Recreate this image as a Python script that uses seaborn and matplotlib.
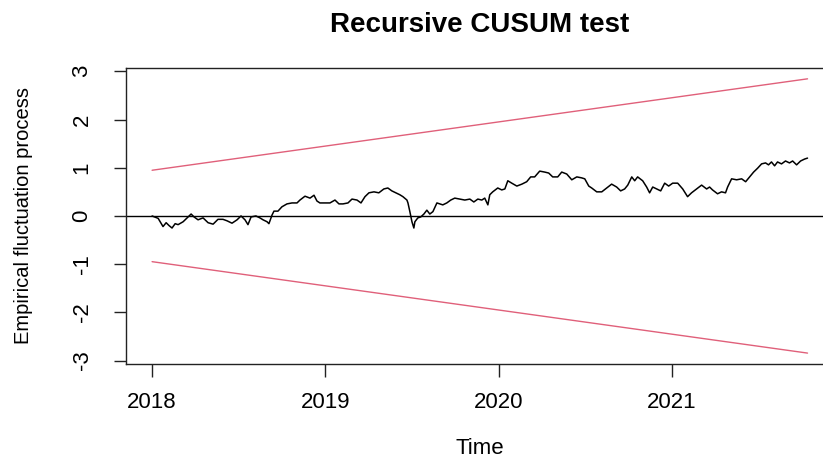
import pandas as pd
import matplotlib
matplotlib.use('Agg')
import matplotlib.pyplot as plt
import seaborn as sns

'''
Recursive CUSUM test: empirical fluctuation process with its
5% boundaries, drawn in the style of an R strucchange plot.
'''

### Data ###
time = [
    2018.000, 2018.035, 2018.063, 2018.081, 2018.098, 2018.115, 2018.133, 2018.150,
    2018.179, 2018.202, 2018.225, 2018.242, 2018.265, 2018.294, 2018.323, 2018.352,
    2018.380, 2018.409, 2018.432, 2018.461, 2018.490, 2018.513, 2018.536, 2018.553,
    2018.571, 2018.599, 2018.622, 2018.640, 2018.663, 2018.674, 2018.692, 2018.703,
    2018.726, 2018.749, 2018.778, 2018.807, 2018.836, 2018.853, 2018.882, 2018.911,
    2018.934, 2018.951, 2018.968, 2018.997, 2019.026, 2019.055, 2019.078, 2019.101,
    2019.130, 2019.153, 2019.182, 2019.205, 2019.228, 2019.251, 2019.280, 2019.308,
    2019.337, 2019.360, 2019.383, 2019.406, 2019.429, 2019.447, 2019.470, 2019.476,
    2019.487, 2019.499, 2019.510, 2019.516, 2019.533, 2019.550, 2019.568, 2019.585,
    2019.602, 2019.620, 2019.643, 2019.660, 2019.677, 2019.700, 2019.723, 2019.746,
    2019.775, 2019.804, 2019.833, 2019.856, 2019.879, 2019.902, 2019.919, 2019.937,
    2019.948, 2019.965, 2019.994, 2020.017, 2020.035, 2020.052, 2020.075, 2020.104,
    2020.133, 2020.161, 2020.184, 2020.207, 2020.236, 2020.265, 2020.288, 2020.311,
    2020.340, 2020.363, 2020.392, 2020.421, 2020.450, 2020.478, 2020.496, 2020.519,
    2020.536, 2020.565, 2020.594, 2020.622, 2020.651, 2020.680, 2020.703, 2020.726,
    2020.744, 2020.767, 2020.784, 2020.801, 2020.830, 2020.853, 2020.870, 2020.888,
    2020.911, 2020.934, 2020.957, 2020.980, 2021.003, 2021.032, 2021.061, 2021.089,
    2021.112, 2021.141, 2021.170, 2021.199, 2021.216, 2021.233, 2021.262, 2021.285,
    2021.308, 2021.320, 2021.343, 2021.372, 2021.401, 2021.424, 2021.447, 2021.470,
    2021.493, 2021.516, 2021.539, 2021.556, 2021.573, 2021.591, 2021.608, 2021.631,
    2021.654, 2021.677, 2021.695, 2021.718, 2021.741, 2021.764, 2021.781,
]
cusum = [
    0.00, -0.05, -0.22, -0.14, -0.20, -0.25, -0.16, -0.18,
    -0.12, -0.04, 0.04, -0.02, -0.08, -0.04, -0.14, -0.17,
    -0.07, -0.07, -0.10, -0.15, -0.08, 0.00, -0.08, -0.18,
    -0.02, 0.00, -0.04, -0.08, -0.12, -0.16, 0.02, 0.10,
    0.10, 0.19, 0.25, 0.27, 0.27, 0.33, 0.41, 0.37,
    0.43, 0.31, 0.27, 0.27, 0.27, 0.33, 0.25, 0.25,
    0.27, 0.35, 0.33, 0.27, 0.40, 0.48, 0.50, 0.48,
    0.56, 0.58, 0.52, 0.48, 0.44, 0.40, 0.33, 0.27,
    0.09, -0.12, -0.25, -0.12, -0.04, -0.02, 0.04, 0.12,
    0.04, 0.09, 0.27, 0.25, 0.23, 0.27, 0.33, 0.37,
    0.35, 0.33, 0.35, 0.29, 0.35, 0.33, 0.37, 0.23,
    0.44, 0.50, 0.58, 0.54, 0.56, 0.73, 0.68, 0.62,
    0.66, 0.71, 0.81, 0.81, 0.93, 0.91, 0.89, 0.81,
    0.81, 0.91, 0.87, 0.75, 0.81, 0.79, 0.77, 0.62,
    0.58, 0.50, 0.50, 0.58, 0.66, 0.60, 0.52, 0.56,
    0.64, 0.81, 0.73, 0.81, 0.73, 0.60, 0.48, 0.60,
    0.56, 0.52, 0.68, 0.62, 0.68, 0.68, 0.56, 0.40,
    0.48, 0.56, 0.64, 0.56, 0.60, 0.54, 0.46, 0.50,
    0.48, 0.60, 0.77, 0.75, 0.77, 0.71, 0.81, 0.91,
    0.99, 1.08, 1.10, 1.06, 1.12, 1.04, 1.12, 1.08,
    1.14, 1.10, 1.14, 1.06, 1.14, 1.18, 1.20,
]
bound_time = [2018.0, 2021.781]
upper_bound = [0.948, 2.844]
lower_bound = [-0.948, -2.844]
x_ticks = [2018, 2019, 2020, 2021]
y_ticks = [-3, -2, -1, 0, 1, 2, 3]

### Style ###
sns.set_style("ticks")
plt.rcParams['font.family'] = ['Liberation Sans', 'DejaVu Sans']
plt.rcParams['text.color'] = 'black'
plt.rcParams['axes.labelcolor'] = 'black'
plt.rcParams['xtick.color'] = '#222222'
plt.rcParams['ytick.color'] = '#222222'
plt.rcParams['xtick.labelcolor'] = 'black'
plt.rcParams['ytick.labelcolor'] = 'black'
bound_color = '#E0607A'

df = pd.DataFrame({'Time': time, 'cusum': cusum})
df_bound = pd.DataFrame({'Time': bound_time, 'upper': upper_bound, 'lower': lower_bound})

fig = plt.figure(figsize=(8.23, 4.59), dpi=100)
# right edge of the R box sits just past the image edge
ax = fig.add_axes([0.153, 0.207, 0.860, 0.645])

# boundaries
sns.lineplot(data=df_bound, x='Time', y='upper', color=bound_color, linewidth=1.0, ax=ax)
sns.lineplot(data=df_bound, x='Time', y='lower', color=bound_color, linewidth=1.0, ax=ax)
# zero reference line
ax.axhline(0, color='black', linewidth=1.0)
# fluctuation process
sns.lineplot(data=df, x='Time', y='cusum', color='black', linewidth=1.1, ax=ax)

# axes in base-R look
ax.set_xlim(2017.849, 2021.932)
ax.set_ylim(-3.07, 3.07)
ax.set_xticks(x_ticks)
ax.set_yticks(y_ticks)
ax.set_xticklabels([str(t) for t in x_ticks], fontsize=16)
ax.set_yticklabels([str(t) for t in y_ticks], fontsize=16, rotation=90, va='center')
ax.tick_params(axis='x', direction='out', length=9, width=1.0, pad=11)
ax.tick_params(axis='y', direction='out', length=9, width=1.0, pad=15)
for spine in ax.spines.values():
    spine.set_visible(True)
    spine.set_linewidth(1.0)
    spine.set_color('#222222')

ax.set_xlabel('Time', fontsize=16, labelpad=18)
ax.set_ylabel('Empirical fluctuation process', fontsize=14.5, labelpad=28)
ax.set_title('Recursive CUSUM test', fontsize=20, fontweight='bold', pad=26)

fig.savefig('out.png', dpi=100)
